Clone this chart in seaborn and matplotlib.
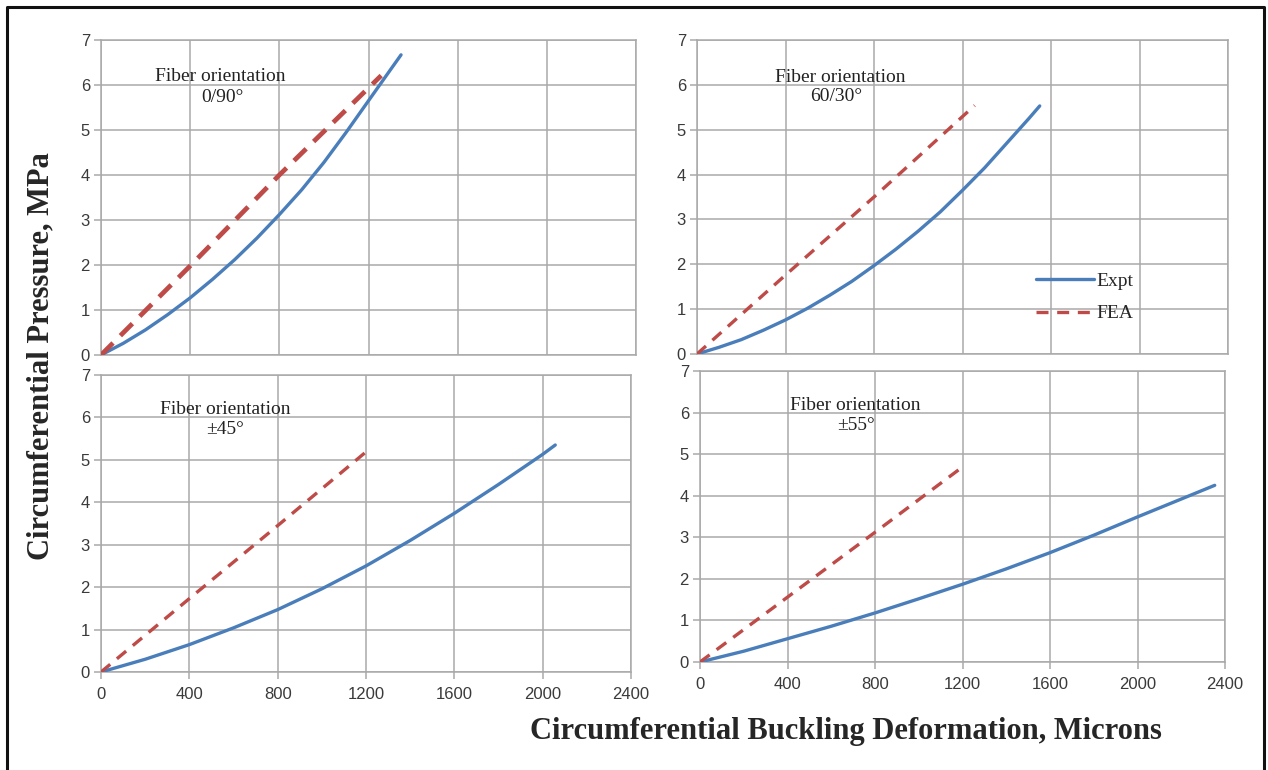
import matplotlib
matplotlib.use("Agg")
import matplotlib.pyplot as plt
from matplotlib.lines import Line2D
import seaborn as sns
import pandas as pd

# ---------------- data ----------------
x_ticks = [0, 400, 800, 1200, 1600, 2000, 2400]
y_ticks = [0, 1, 2, 3, 4, 5, 6, 7]

# 0/90 degrees
expt_090_x = [0, 100, 200, 300, 400, 500, 600, 700, 800, 900, 1000, 1100, 1200, 1300, 1346]
expt_090_y = [0, 0.26, 0.56, 0.90, 1.27, 1.68, 2.12, 2.60, 3.12, 3.67, 4.28, 4.95, 5.65, 6.35, 6.67]
fea_090_x = [0, 400, 800, 1257]
fea_090_y = [0, 1.98, 4.0, 6.21]

# 60/30 degrees
expt_6030_x = [0, 100, 200, 300, 400, 500, 600, 700, 800, 900, 1000, 1100, 1200, 1300, 1400, 1500, 1549]
expt_6030_y = [0, 0.15, 0.32, 0.53, 0.76, 1.02, 1.31, 1.62, 1.97, 2.34, 2.74, 3.17, 3.65, 4.15, 4.70, 5.25, 5.53]
fea_6030_x = [0, 400, 800, 1255]
fea_6030_y = [0, 1.76, 3.5, 5.54]

# +/-45 degrees
expt_45_x = [0, 200, 400, 600, 800, 1000, 1200, 1400, 1600, 1800, 2000, 2057]
expt_45_y = [0, 0.30, 0.645, 1.04, 1.47, 1.96, 2.50, 3.10, 3.74, 4.42, 5.13, 5.35]
fea_45_x = [0, 400, 800, 1219]
fea_45_y = [0, 1.73, 3.45, 5.27]

# +/-55 degrees
expt_55_x = [0, 200, 400, 600, 800, 1000, 1200, 1400, 1600, 1800, 2000, 2200, 2353]
expt_55_y = [0, 0.26, 0.56, 0.86, 1.18, 1.52, 1.87, 2.24, 2.63, 3.05, 3.49, 3.92, 4.25]
fea_55_x = [0, 400, 800, 1197]
fea_55_y = [0, 1.56, 3.12, 4.68]

orientation_labels = ["0/90°", "60/30°", "±45°", "±55°"]
series_names = ["Expt", "FEA"]

# ---------------- style ----------------
sns.set_theme(style="whitegrid")
plt.rcParams['font.family'] = ['Liberation Sans', 'DejaVu Sans']
SERIF = ['Liberation Serif', 'DejaVu Serif']

BLUE = "#4a7ebb"
RED = "#be4b48"
GRID = "#a9a9a9"
TICKC = "#3a3a3a"

W, H = 1268, 770
fig = plt.figure(figsize=(W / 100, H / 100), dpi=100)
fig.patch.set_facecolor("white")


def rect(left, right, top, bottom):
    return [left / W, 1 - bottom / H, (right - left) / W, (bottom - top) / H]


panels = [
    dict(rect=rect(101, 636, 40, 355), ex=expt_090_x, ey=expt_090_y, fx=fea_090_x, fy=fea_090_y,
         label=orientation_labels[0], t1=(535, 6.18), t2=(546, 5.72), xlab=False, fea_lw=3.4,
         dash=(3.6, 2.2), legend=False),
    dict(rect=rect(697, 1228, 40, 354), ex=expt_6030_x, ey=expt_6030_y, fx=fea_6030_x, fy=fea_6030_y,
         label=orientation_labels[1], t1=(648, 6.17), t2=(629, 5.74), xlab=False, fea_lw=2.4,
         dash=(3.6, 2.6), legend=True),
    dict(rect=rect(101, 631, 375, 672), ex=expt_45_x, ey=expt_45_y, fx=fea_45_x, fy=fea_45_y,
         label=orientation_labels[2], t1=(562, 6.18), t2=(560, 5.71), xlab=True, fea_lw=2.4,
         dash=(3.6, 2.6), legend=False),
    dict(rect=rect(700, 1225, 371, 662), ex=expt_55_x, ey=expt_55_y, fx=fea_55_x, fy=fea_55_y,
         label=orientation_labels[3], t1=(708, 6.18), t2=(713, 5.70), xlab=True, fea_lw=2.4,
         dash=(3.6, 2.6), legend=False),
]

for p in panels:
    ax = fig.add_axes(p["rect"])
    ax.set_facecolor("white")
    df_e = pd.DataFrame({"x": p["ex"], "y": p["ey"]})
    df_f = pd.DataFrame({"x": p["fx"], "y": p["fy"]})
    sns.lineplot(data=df_e, x="x", y="y", ax=ax, color=BLUE, linewidth=2.4,
                 estimator=None, sort=False, label=series_names[0], zorder=3)
    sns.lineplot(data=df_f, x="x", y="y", ax=ax, color=RED, linewidth=p["fea_lw"],
                 estimator=None, sort=False, label=series_names[1], zorder=3,
                 dashes=False)
    ax.lines[-1].set_dashes(p["dash"])

    ax.set_xlim(0, 2400)
    ax.set_ylim(0, 7)
    ax.set_xticks(x_ticks)
    ax.set_yticks(y_ticks)
    ax.set_xlabel("")
    ax.set_ylabel("")
    ax.grid(True, color=GRID, linewidth=1.1)
    for s in ax.spines.values():
        s.set_color(GRID)
        s.set_linewidth(1.1)
    ax.tick_params(axis="both", which="both", length=5, width=1.1, color=GRID,
                   labelsize=12, labelcolor=TICKC, pad=3, left=True, bottom=True)
    if not p["xlab"]:
        ax.tick_params(axis="x", labelbottom=False, length=0)
    else:
        ax.tick_params(axis="x", pad=6)

    ax.text(p["t1"][0], p["t1"][1], "Fiber orientation", ha="center", va="center",
            family=SERIF, fontsize=14, color="#222222")
    ax.text(p["t2"][0], p["t2"][1], p["label"], ha="center", va="center",
            family=SERIF, fontsize=14, color="#222222")

    leg = ax.get_legend()
    if leg is not None:
        leg.remove()
    if p["legend"]:
        h = [Line2D([], [], color=BLUE, linewidth=2.4),
             Line2D([], [], color=RED, linewidth=2.4, dashes=(3.6, 2.6))]
        ax.legend(h, series_names, loc="upper left", bbox_to_anchor=(0.605, 0.315),
                  frameon=False, handlelength=3.0, handletextpad=0.1,
                  labelspacing=0.75, prop={"family": SERIF, "size": 14})

fig.text(846 / W, 1 - 731 / H, "Circumferential Buckling Deformation, Microns",
         ha="center", va="center", family=SERIF, fontweight="bold", fontsize=22)
fig.text(41 / W, 1 - 356 / H, "Circumferential Pressure, MPa", rotation=90,
         ha="center", va="center", family=SERIF, fontweight="bold", fontsize=22)

# outer frame (left, top, right)
fl, ft, fr = 7 / W, 1 - 7 / H, 1264 / W
fig.add_artist(Line2D([fl, fl, fr, fr], [0, ft, ft, 0], transform=fig.transFigure,
                      color="#111111", linewidth=2.2))

fig.savefig("out.png", dpi=100, facecolor="white")
